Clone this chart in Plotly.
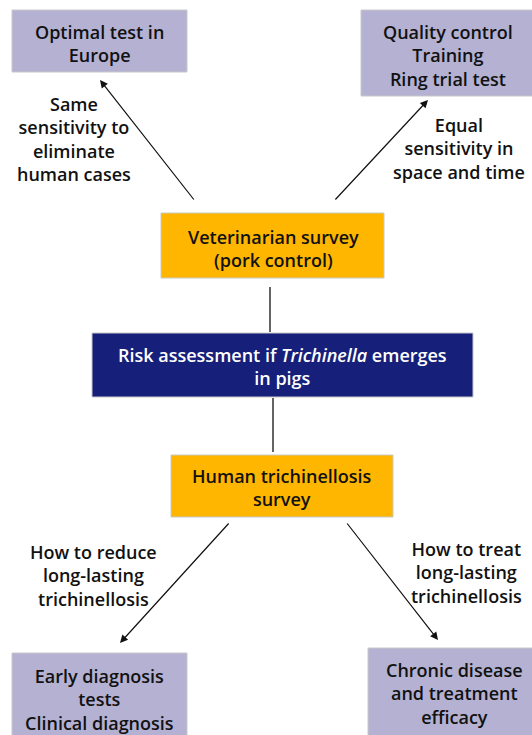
import plotly.graph_objects as go

# ---- content ----
box_labels = [
    "Optimal test in<br>Europe",
    "Quality control<br>Training<br>Ring trial test",
    "Veterinarian survey<br>(pork control)",
    "Risk assessment if <i>Trichinella</i> emerges<br>in pigs",
    "Human trichinellosis<br>survey",
    "Early diagnosis<br>tests<br>Clinical diagnosis",
    "Chronic disease<br>and treatment<br>efficacy",
]
edge_labels = [
    "Same<br>sensitivity to<br>eliminate<br>human cases",
    "Equal<br>sensitivity in<br>space and time",
    "How to reduce<br>long-lasting<br>trichinellosis",
    "How to treat<br>long-lasting<br>trichinellosis",
]

# ---- layout (pixel coordinates) ----
box_rects = [
    (12, 10, 187, 72),
    (361, 10, 534, 96),
    (161, 213, 384, 278),
    (92, 333, 473, 397),
    (171, 455, 393, 517),
    (12, 653, 187, 740),
    (368, 648, 534, 740),
]
box_text_pos = [(99, 43), (448, 55), (273, 248), (282, 366), (282, 487), (99, 699), (454, 693)]
box_fill = ["#b4b1d3", "#b4b1d3", "#ffb600", "#16207a", "#ffb600", "#b4b1d3", "#b4b1d3"]
box_font_color = ["#111", "#111", "#111", "#ffffff", "#111", "#111", "#111"]

edge_text_pos = [(74, 139), (459, 148), (93, 575), (466, 572)]

arrows = [  # (tail x, tail y, head x, head y)
    (195, 201, 100, 80),
    (334, 201, 428, 100),
    (230, 522, 120, 643),
    (346, 522, 438, 640),
]
plain_lines = [(270, 287, 270, 332), (273, 398, 273, 452)]

FONT = "Open Sans"
FSIZE = 18

fig = go.Figure()
shapes = []
for (x0, y0, x1, y1), fc in zip(box_rects, box_fill):
    shapes.append(dict(type="rect", x0=x0, y0=y0, x1=x1, y1=y1, fillcolor=fc,
                       line=dict(color="#c8c8c8", width=1), layer="below"))
for (x0, y0, x1, y1) in plain_lines:
    shapes.append(dict(type="line", x0=x0, y0=y0, x1=x1, y1=y1,
                       line=dict(color="#111", width=1.3)))

annotations = []
for txt, (x, y), fcol in zip(box_labels, box_text_pos, box_font_color):
    annotations.append(dict(x=x, y=y, text=txt, showarrow=False, xref="x", yref="y",
                            font=dict(family=FONT, size=FSIZE, color=fcol, weight=600),
                            align="center"))
for txt, (x, y) in zip(edge_labels, edge_text_pos):
    annotations.append(dict(x=x, y=y, text=txt, showarrow=False, xref="x", yref="y",
                            font=dict(family=FONT, size=FSIZE, color="#111", weight=600),
                            align="center"))
for (tx, ty, hx, hy) in arrows:
    annotations.append(dict(x=hx, y=hy, ax=tx, ay=ty, xref="x", yref="y", axref="x", ayref="y",
                            text="", showarrow=True, arrowhead=2, arrowsize=1.3,
                            arrowwidth=1.2, arrowcolor="#111"))

fig.update_layout(
    width=532, height=735, margin=dict(l=0, r=0, t=0, b=0),
    paper_bgcolor="white", plot_bgcolor="white",
    xaxis=dict(range=[0, 532], visible=False, fixedrange=True),
    yaxis=dict(range=[735, 0], visible=False, fixedrange=True),
    shapes=shapes, annotations=annotations, showlegend=False,
)
fig.write_html(
    "out.html",
    config={"displayModeBar": False},
    post_script="document.body.style.margin='0';document.body.style.overflow='hidden';",
)
